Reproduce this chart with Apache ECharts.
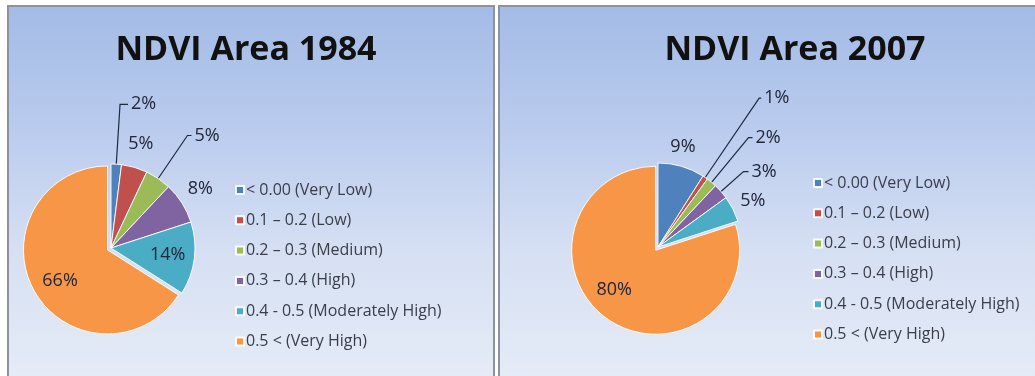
<!DOCTYPE html>
<html>
<head>
<meta charset="utf-8">
<script src="https://cdn.jsdelivr.net/npm/echarts@6/dist/echarts.min.js"></script>
<style>
  html, body { margin: 0; padding: 0; background: #ffffff; }
  #wrap { position: relative; width: 1035px; height: 376px; overflow: hidden; }
  .panel { position: absolute; top: 5px; height: 380px; box-sizing: border-box;
           border: 2px solid #8e939b; border-bottom: none;
           background: linear-gradient(to bottom, #a3bbe6 0%, #bccdee 35%, #d6e0f3 65%, #e6ecf7 100%); }
  #p1 { left: 7px; width: 488px; }
  #p2 { left: 498px; width: 540px; }
  #chart { position: absolute; left: 0; top: 0; width: 1035px; height: 376px; }
</style>
</head>
<body>
<div id="wrap">
  <div class="panel" id="p1"></div>
  <div class="panel" id="p2"></div>
  <div id="chart"></div>
</div>
<script>
// ---- data ----
const categories = ['< 0.00 (Very Low)', '0.1 – 0.2 (Low)', '0.2 – 0.3 (Medium)', '0.3 – 0.4 (High)', '0.4 - 0.5 (Moderately High)', '0.5 < (Very High)'];
const values1984 = [2, 5, 5, 8, 14, 66];
const values2007 = [9, 1, 2, 3, 5, 80];
const titles = ['NDVI Area 1984', 'NDVI Area 2007'];

// ---- styles ----
const colors = ['#4f81bd', '#c0504d', '#9bbb59', '#8064a2', '#4bacc6', '#f79646'];
// per-slice label style: inside/outside, leader line, lengths, nudges
const labelStyle1984 = [
  { pos: 'outside', line: true,  len: 60, len2: 8 },
  { pos: 'outside', line: false, len: 24, len2: 0, dx: -16, dy: 0 },
  { pos: 'outside', line: true,  len: 52, len2: 4 },
  { pos: 'outside', line: false, len: 8,  len2: 0, dx: -4, dy: -10 },
  { pos: 'inside',  dx: 12, dy: 1 },
  { pos: 'inside',  dx: -8, dy: 9 }
];
const labelStyle2007 = [
  { pos: 'outside', line: false, len: 14, len2: 0, dx: -18, dy: -6 },
  { pos: 'outside', line: true,  len: 96, len2: 2 },
  { pos: 'outside', line: true,  len: 58, len2: 4 },
  { pos: 'outside', line: true,  len: 30, len2: 5 },
  { pos: 'outside', line: false, len: 5,  len2: 0, dx: 0, dy: -6 },
  { pos: 'inside',  dx: -15, dy: 3 }
];
const FONT = '"Open Sans", "DejaVu Sans", sans-serif';

function buildData(values, styles) {
  return values.map((v, i) => {
    const s = styles[i];
    const item = {
      name: categories[i],
      value: v,
      itemStyle: { color: colors[i] },
      label: { position: s.pos },
      labelLine: { show: !!s.line, length: s.len || 0, length2: s.len2 || 0 }
    };
    if (i === values.length - 1) item.selected = true;
    return item;
  });
}

function pieSeries(values, styles, center) {
  return {
    type: 'pie',
    center: center,
    radius: 84,
    startAngle: 90,
    clockwise: true,
    avoidLabelOverlap: false,
    selectedMode: 'single',
    selectedOffset: 4,
    animation: false,
    itemStyle: { borderColor: 'rgba(255,255,255,0.9)', borderWidth: 1 },
    label: {
      show: true,
      formatter: '{c}%',
      color: '#22263a',
      fontFamily: FONT,
      fontSize: 18,
      distanceToLabelLine: 3
    },
    labelLine: { lineStyle: { color: '#1e2840', width: 1.2 }, smooth: false },
    labelLayout: function (p) {
      const s = styles[p.dataIndex];
      if (s.dx == null && s.dy == null) return null;
      return { dx: s.dx || 0, dy: s.dy || 0 };
    },
    emphasis: { disabled: true },
    data: buildData(values, styles)
  };
}

const chart = echarts.init(document.getElementById('chart'), null, { renderer: 'canvas' });
const legendCommon = {
  orient: 'vertical',
  icon: 'rect',
  itemWidth: 8,
  itemHeight: 8,
  itemGap: 14.3,
  selectedMode: false,
  textStyle: { color: '#3a3d4a', fontFamily: FONT, fontSize: 16, lineHeight: 16, padding: [0, 0, 0, -3] },
  data: categories
};
chart.setOption({
  backgroundColor: 'transparent',
  animation: false,
  title: [
    { text: titles[0], left: 241, top: 28, textAlign: 'center',
      textStyle: { fontFamily: FONT, fontWeight: 'bold', fontSize: 34, color: '#111111' } },
    { text: titles[1], left: 790, top: 28, textAlign: 'center',
      textStyle: { fontFamily: FONT, fontWeight: 'bold', fontSize: 34, color: '#111111' } }
  ],
  legend: [
    Object.assign({}, legendCommon, { left: 230, top: 177 }),
    Object.assign({}, legendCommon, { left: 808, top: 170 })
  ],
  series: [
    pieSeries(values1984, labelStyle1984, [111, 248]),
    pieSeries(values2007, labelStyle2007, [658, 247])
  ]
});
</script>
</body>
</html>
